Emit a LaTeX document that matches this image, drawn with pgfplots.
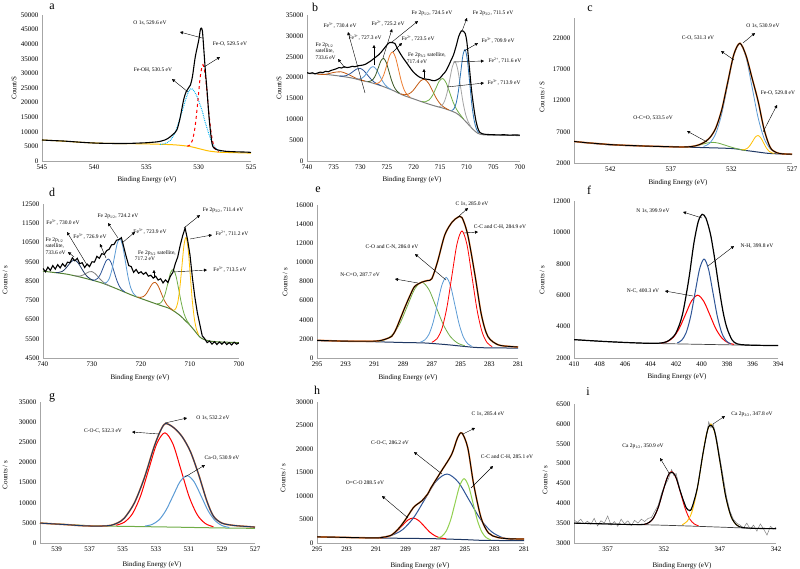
\documentclass[border=0pt]{standalone}
\usepackage{fontspec}
\setmainfont{Liberation Serif}
\usepackage{pgfplots}
\pgfplotsset{compat=1.18}
\usetikzlibrary{arrows.meta}
\definecolor{axisgray}{HTML}{A6A6A6}
\definecolor{xred}{HTML}{FF0000}
\definecolor{xcyan}{HTML}{00B0F0}
\definecolor{xgold}{HTML}{FFC000}
\definecolor{xorg}{HTML}{ED7D31}
\definecolor{xbrown}{HTML}{C55A11}
\definecolor{xnavy}{HTML}{1F3864}
\definecolor{xdblue}{HTML}{2F5597}
\definecolor{xlblue}{HTML}{5B9BD5}
\definecolor{xblue}{HTML}{2E75B6}
\definecolor{xdgreen}{HTML}{385723}
\definecolor{xgreen}{HTML}{70AD47}
\definecolor{xlgreen}{HTML}{92D050}
\definecolor{xolive}{HTML}{548235}
\definecolor{xgray}{HTML}{808080}
\definecolor{xlgray}{HTML}{A5A5A5}
\definecolor{xraw}{HTML}{404040}

\pgfplotsset{
  xps/.style={
    scale only axis, x dir=reverse, anchor=south west,
    axis x line*=bottom, axis y line*=left,
    axis line style={draw=axisgray, line width=0.6pt},
    major tick length=0pt,
    tick label style={font=\fontsize{7}{8}\selectfont, text=black},
    /pgf/number format/assume math mode=true,
    /pgf/number format/1000 sep={},
    scaled ticks=false,
    every axis plot/.append style={smooth, no markers, line width=0.8pt},
  },
}
\newcommand{\an}{\fontsize{5.5}{6.5}\selectfont}
\newcommand{\lab}{\fontsize{7}{8}\selectfont}
\tikzset{arr/.style={-{Triangle[length=3pt,width=3pt]}, line width=0.4pt, black}}

\begin{document}
\begin{tikzpicture}
\fill[white] (0,0) rectangle (800pt,-569pt);
\useasboundingbox (0,0) rectangle (800pt,-569pt);

% ---------- a: O 1s ----------
\begin{axis}[xps, at={(42pt,-161pt)}, width=209pt, height=146pt,
  xmin=525, xmax=545, ymin=0, ymax=50000,
  xtick={525,530,535,540,545}, ytick={0,5000,...,50000}]
\addplot[xgold, line width=1pt] coordinates {(545,7200) (543,6800) (541,6350) (539,6050) (537,5950) (535,5850) (533,5650) (532,5450) (531,5050) (530.5,4700) (530,4250) (529.5,3800) (529,3400) (528,3000) (527,2900) (525,2700)};
\addplot[xcyan, densely dotted, line width=1pt] coordinates {(533.7,5726) (533.2,5990) (532.7,7160) (532.2,10300) (531.7,15760) (531.2,21610) (530.95,24000) (530.7,24800) (530.45,24000) (530.2,22300) (529.7,17500) (529.4,13500) (529.05,9500) (528.75,6500) (528.5,4900) (528.2,3800) (527.8,3200)};
\addplot[xred, dashed, line width=1pt] coordinates {(531.1,5063) (530.85,5490) (530.6,7150) (530.35,11730) (530.1,19970) (529.85,29020) (529.6,32980) (529.35,28620) (529.1,19170) (528.85,10580) (528.6,5670) (528.35,3710) (528.1,3133)};
\addplot[black, line width=1.1pt] coordinates {(545,7200) (544,7000) (543,6850) (542,6600) (541,6350) (540,6150) (539,6050) (538,6000) (537,6000) (536,6100) (535,6250) (534.5,6400) (534,6550) (533.5,6900) (533,7600) (532.5,9000) (532.1,10600) (531.8,14500) (531.45,20900) (531.2,23800) (531,24900) (530.8,26000) (530.6,29000) (530.33,35700) (530,41400) (529.85,44900) (529.75,45500) (529.65,44500) (529.53,39000) (529.37,31000) (529.21,24300) (528.99,14000) (528.73,6000) (528.5,4300) (528.2,3800) (527.5,3350) (526.5,3150) (525.5,3050) (525,2950)};
\end{axis}

% ---------- b: Fe 2p ----------
\begin{axis}[xps, at={(307pt,-161pt)}, width=213pt, height=146pt,
  xmin=700, xmax=740, ymin=0, ymax=35000,
  xtick={700,705,...,740}, ytick={0,5000,...,35000}]
\addplot[xgray, line width=1pt] coordinates {(740,21000) (736,20700) (732,20000) (730,19400) (728,18800) (726,18000) (724,17000) (722,15800) (720,14900) (718,14000) (716,13200) (714,12500) (712,11500) (711,10500) (710,9200) (709,7800) (708,6700) (707,6300) (705,6200) (700,6100)};
\addplot[xbrown] coordinates {(738.1,20852) (736.6,20749) (735.1,21207) (733.6,21380) (732.1,20667) (730.6,19729) (729.1,19142)};
\addplot[xdblue] coordinates {(733.9,20364) (733.25,20342) (732.6,20484) (731.95,20894) (731.3,21488) (730.65,22066) (730,22200) (729.35,21676) (728.7,20708) (728.05,19724) (727.4,18939) (726.75,18423) (726.1,18071)};
\addplot[xlblue] coordinates {(730.8,19684) (730.25,19651) (729.7,19851) (729.15,20444) (728.6,21406) (728.05,22345) (727.5,22600) (726.95,21910) (726.4,20586) (725.85,19224) (725.3,18191) (724.75,17551) (724.2,17144)};
\addplot[xdgreen] coordinates {(728.6,19055) (728.1,19129) (727.6,19560) (727.1,20648) (726.6,22364) (726.1,24041) (725.6,24600) (725.1,23551) (724.6,21424) (724.1,19258) (723.6,17680) (723.1,16759) (722.6,16235)};
\addplot[xorg] coordinates {(727.2,18582) (726.65,18664) (726.1,19285) (725.55,20762) (725,23080) (724.45,25344) (723.9,26140) (723.35,24729) (722.8,21860) (722.25,18937) (721.7,16910) (721.15,15822) (720.6,15272)};
\addplot[xbrown] coordinates {(722.4,16102) (721.65,15889) (720.9,16063) (720.15,16786) (719.4,18026) (718.65,19235) (717.9,19560) (717.15,18602) (716.4,16756) (715.65,14896) (714.9,13573) (714.15,12799) (713.4,12262)};
\addplot[xgreen] coordinates {(718.4,14259) (717.75,14212) (717.1,14601) (716.45,15685) (715.8,17436) (715.15,19169) (714.5,19775) (713.85,18691) (713.2,16406) (712.55,14080) (711.9,12361) (711.25,11137) (710.6,10059)};
\addplot[xlgray] coordinates {(715.2,13055) (714.7,13281) (714.2,14251) (713.7,16311) (713.2,19499) (712.7,22617) (712.2,23800) (711.7,21967) (711.2,18099) (710.7,14071) (710.2,11111) (709.7,9316) (709.2,8215)};
\addplot[xblue] coordinates {(712.85,12115) (712.43,12466) (712,13814) (711.58,16632) (711.15,21021) (710.73,25241) (710.3,26690) (709.88,24121) (709.45,18801) (709.03,13392) (708.6,9674) (708.18,7651) (707.75,6790)};
\addplot[black, line width=1.1pt] coordinates {(740,21200) (739.5,21000) (739,21150) (738.5,20900) (738,21100) (737.5,21300) (737,21200) (736.5,21500) (736,21400) (735.5,21700) (735,21900) (734.5,22100) (734,22400) (733.5,22300) (733,22600) (732.5,22400) (732,22500) (731.5,22700) (731,22600) (730.5,22800) (730,22900) (729.5,23000) (729,23200) (728.5,23600) (728,24000) (727.5,24500) (727,25000) (726.5,25500) (726,26200) (725.5,27000) (725,27800) (724.5,28400) (724,28400) (723.5,28200) (723,26900) (722.5,25800) (722,24800) (721.5,23900) (721,23000) (720.5,22100) (720,21300) (719.5,20700) (719,20200) (718.5,19900) (718,19700) (717.5,19600) (717,19500) (716.5,19300) (716,19250) (715.5,19500) (715,19900) (714.5,20700) (714,21400) (713.5,22600) (713,24000) (712.5,25400) (712,27500) (711.5,29900) (711,31200) (710.6,31100) (710.3,30600) (710,28800) (709.7,25000) (709.4,21000) (709.1,17000) (708.7,13000) (708.3,9800) (707.9,7800) (707.5,6800) (707,6500) (706.5,6400) (706,6350) (705,6300) (704,6250) (703,6300) (702,6200) (701,6250) (700,6200)};
\end{axis}

% ---------- c: O 1s ----------
\begin{axis}[xps, at={(574pt,-163pt)}, width=218pt, height=145pt,
  xmin=527, xmax=545, ymin=2000, ymax=25200,
  xtick={527,532,537,542}, ytick={2000,7000,12000,17000,22000}]
\addplot[xnavy, line width=1pt] coordinates {(545,5450) (542,4900) (538,4650) (535,4500) (532,4320) (531,4050) (530,3800) (529,3550) (528,3450) (527,3400)};
\addplot[xgreen] coordinates {(536.2,4570) (535.75,4577) (535.3,4635) (534.85,4779) (534.4,5004) (533.95,5222) (533.5,5300) (533.05,5168) (532.6,4896) (532.15,4618) (531.7,4360) (531.25,4157) (530.8,4010)};
\addplot[xgold] coordinates {(531.15,4119) (530.93,4146) (530.7,4334) (530.48,4780) (530.25,5469) (530.03,6147) (529.8,6400) (529.58,6034) (529.35,5245) (529.13,4443) (528.9,3899) (528.68,3634) (528.45,3524)};
\addplot[xlblue] coordinates {(534.3,4646) (533.8,5173) (533.3,6694) (532.8,9878) (532.3,14630) (531.8,19236) (531.3,21100) (530.8,18976) (530.3,14167) (529.8,9260) (529.3,5921) (528.8,4275) (528.3,3668)};
\addplot[xorg, line width=1.6pt] coordinates {(545,5450) (544,5250) (543,5100) (542,4950) (541,4850) (540,4780) (539,4700) (538,4650) (537,4600) (536,4560) (535.3,4635) (534.8,4838) (534.3,5246) (533.8,6015) (533.3,7562) (532.8,10536) (532.3,14996) (531.8,19386) (531.3,21155) (530.8,19210) (530.3,15597) (529.8,11910) (529.3,7351) (528.8,4499) (528.3,3678) (527.8,3470) (527,3400)};
\addplot[black, line width=0.9pt] coordinates {(545,5450) (544,5250) (543,5100) (542,4950) (541,4850) (540,4780) (539,4700) (538,4650) (537,4600) (536,4560) (535.3,4635) (534.8,4838) (534.3,5246) (533.8,6015) (533.3,7562) (532.8,10536) (532.3,14996) (531.8,19386) (531.3,21155) (530.8,19210) (530.3,15597) (529.8,11910) (529.3,7351) (528.8,4499) (528.3,3678) (527.8,3470) (527,3400)};
\end{axis}

% ---------- d: Fe 2p ----------
\begin{axis}[xps, at={(43pt,-358pt)}, width=196pt, height=154pt,
  xmin=700, xmax=740, ymin=4500, ymax=12500,
  xtick={700,710,...,740}, ytick={4500,5500,...,12500}]
\addplot[xolive, line width=1pt] coordinates {(740,9010) (737,8920) (735,8850) (732,8680) (728,8400) (725,8100) (722,7780) (720,7590) (718,7410) (716,7230) (714,7050) (712,6700) (711,6450) (710,6200) (709,5900) (708,5590) (707,5450) (705,5350) (700,5300)};
\addplot[xnavy] coordinates {(737.4,8942) (736.75,8948) (736.1,8995) (735.45,9129) (734.8,9333) (734.15,9521) (733.5,9580) (732.85,9447) (732.2,9185) (731.55,8914) (730.9,8713) (730.25,8594) (729.6,8521)};
\addplot[xgray] coordinates {(733.6,8776) (733,8757) (732.4,8764) (731.8,8812) (731.2,8897) (730.6,8979) (730,8990) (729.4,8895) (728.8,8729) (728.2,8560) (727.6,8421) (727,8320) (726.4,8245)};
\addplot[xdblue] coordinates {(729.9,8548) (729.35,8556) (728.8,8643) (728.25,8866) (727.7,9207) (727.15,9533) (726.6,9640) (726.05,9423) (725.5,8987) (724.95,8543) (724.4,8223) (723.85,8038) (723.3,7933)};
\addplot[xlblue] coordinates {(727.6,8390) (727.05,8423) (726.5,8613) (725.95,9067) (725.4,9768) (724.85,10454) (724.3,10710) (723.75,10336) (723.2,9535) (722.65,8722) (722.1,8153) (721.55,7855) (721,7715)};
\addplot[xbrown] coordinates {(720.7,7669) (720.1,7648) (719.5,7692) (718.9,7843) (718.3,8104) (717.7,8354) (717.1,8429) (716.5,8246) (715.9,7888) (715.3,7524) (714.7,7262) (714.1,7107) (713.5,6975)};
\addplot[xgreen] coordinates {(716.7,7317) (716.15,7339) (715.6,7486) (715.05,7845) (714.5,8402) (713.95,8943) (713.4,9100) (712.85,8751) (712.3,8060) (711.75,7338) (711.2,6792) (710.65,6458) (710.1,6249)};
\addplot[xgold] coordinates {(713.35,6984) (712.93,7054) (712.5,7378) (712.08,8130) (711.65,9257) (711.23,10356) (710.8,10760) (710.38,10143) (709.95,8829) (709.53,7475) (709.1,6520) (708.68,5992) (708.25,5716)};
\addplot[black, line width=1.1pt, sharp plot] coordinates {(740,9150) (739.5,8980) (739,9220) (738.5,9050) (738,9300) (737.5,9120) (737,9350) (736.5,9180) (736,9400) (735.5,9250) (735,9480) (734.5,9450) (734,9700) (733.5,9550) (733,9680) (732.5,9400) (732,9450) (731.5,9200) (731,9380) (730.5,9250) (730,9500) (729.5,9480) (729,9780) (728.5,9680) (728,9920) (727.5,9880) (727,10080) (726.5,10150) (726,10380) (725.5,10400) (725,10620) (724.5,10650) (724,10750) (723.5,10250) (723,9750) (722.5,9300) (722,9250) (721.5,8950) (721,9100) (720.5,8900) (720,8980) (719.5,8850) (719,8950) (718.5,8750) (718,8800) (717.5,8650) (717,8750) (716.5,8550) (716,8620) (715.5,8400) (715,8560) (714.5,8420) (714,8750) (713.5,8950) (713,9400) (712.5,9750) (712,10350) (711.5,10850) (711,11250) (710.5,10650) (710,9850) (709.5,8650) (709,7650) (708.5,6850) (708,6250) (707.5,5650) (707,5500) (706.5,5300) (706,5380) (705.5,5220) (705,5350) (704.5,5200) (704,5330) (703.5,5220) (703,5340) (702.5,5200) (702,5300) (701.5,5180) (701,5320) (700.5,5220) (700,5280)};
\end{axis}

% ---------- e: C 1s ----------
\begin{axis}[xps, at={(317pt,-358pt)}, width=201pt, height=153pt,
  xmin=281, xmax=295, ymin=0, ymax=16000,
  xtick={281,283,...,295}, ytick={0,2000,...,16000}]
\addplot[xnavy, line width=1pt] coordinates {(295,1810) (292,1740) (289,1620) (287.5,1570) (286,1400) (285,1250) (284,1110) (283,1060) (281,1040)};
\addplot[xgreen] coordinates {(290.7,1758) (290.2,1947) (289.7,2507) (289.2,3690) (288.7,5461) (288.2,7197) (287.7,7927) (287.2,7140) (286.7,5330) (286.2,3485) (285.7,2214) (285.2,1559) (284.7,1278)};
\addplot[xlblue] coordinates {(287.8,1658) (287.5,1878) (287.2,2486) (286.9,3781) (286.6,5726) (286.3,7629) (286,8420) (285.7,7550) (285.4,5568) (285.1,3544) (284.8,2172) (284.5,1488) (284.2,1216)};
\addplot[xred] coordinates {(287,1647) (286.65,2003) (286.3,3064) (285.95,5306) (285.6,8648) (285.25,11922) (284.9,13286) (284.55,11821) (284.2,8446) (283.85,5016) (283.5,2715) (283.15,1597) (282.8,1192)};
\addplot[xorg, line width=1.6pt] coordinates {(295,1850) (294,1800) (293,1760) (292,1750) (291,1760) (290.5,1850) (290,2100) (289.8,2260) (289.5,3000) (288.9,5220) (288.5,6600) (288.2,7480) (287.7,7930) (287.3,8100) (287,8300) (286.6,10090) (286.1,12870) (285.6,14190) (285.2,14710) (284.9,14680) (284.5,12870) (284,8700) (283.55,4520) (283.1,2260) (282.4,1390) (281.5,1200) (281,1150)};
\addplot[black, line width=0.9pt] coordinates {(295,1850) (294,1800) (293,1760) (292,1750) (291,1760) (290.5,1850) (290,2100) (289.8,2260) (289.5,3000) (288.9,5220) (288.5,6600) (288.2,7480) (287.7,7930) (287.3,8100) (287,8300) (286.6,10090) (286.1,12870) (285.6,14190) (285.2,14710) (284.9,14680) (284.5,12870) (284,8700) (283.55,4520) (283.1,2260) (282.4,1390) (281.5,1200) (281,1150)};
\end{axis}

% ---------- f: N 1s ----------
\begin{axis}[xps, at={(574pt,-358pt)}, width=204pt, height=157pt,
  xmin=394, xmax=410, ymin=2000, ymax=12000,
  xtick={394,396,...,410}, ytick={2000,4000,...,12000}]
\addplot[xraw, line width=0.7pt] coordinates {(410,3170) (408,3070) (406,2990) (404,2930) (402,2900) (400,2870) (398,2840) (396,2810) (394,2790)};
\addplot[xred, line width=1pt] coordinates {(403.15,2950) (402.68,3045) (402.2,3326) (401.73,3911) (401.25,4784) (400.78,5640) (400.3,6000) (399.83,5625) (399.35,4755) (398.88,3868) (398.4,3269) (397.93,2976) (397.45,2867)};
\addplot[xdblue, line width=1pt] coordinates {(401.9,2958) (401.55,3132) (401.2,3623) (400.85,4648) (400.5,6174) (400.15,7668) (399.8,8302) (399.45,7658) (399.1,6153) (398.75,4616) (398.4,3581) (398.05,3080) (397.7,2896)};
\addplot[black, line width=1.2pt] coordinates {(410,3170) (408,3070) (406,2990) (404,2935) (403,2975) (402.5,3150) (402,3600) (401.5,4750) (401,7000) (400.6,9300) (400.25,10700) (399.95,11150) (399.65,10900) (399.3,9900) (399,8500) (398.65,6600) (398.3,4900) (398,3900) (397.6,3150) (397.2,2900) (396.5,2830) (395,2800) (394,2790)};
\end{axis}

% ---------- g: O 1s ----------
\begin{axis}[xps, at={(40pt,-543pt)}, width=215pt, height=141pt,
  xmin=527, xmax=540, ymin=0, ymax=35000,
  xtick={527,529,...,539}, ytick={0,5000,...,35000}]
\addplot[xgreen, line width=1pt] coordinates {(540,4950) (538,4500) (537,4300) (536,4200) (534,4080) (532,3950) (530,3800) (528,3680) (527,3650)};
\addplot[xred, line width=1pt] coordinates {(535.39,4422) (534.9,5160) (534.41,7267) (533.92,11663) (533.43,18218) (532.94,24636) (532.45,27350) (531.96,24571) (531.47,18084) (530.98,11462) (530.49,6999) (530,4826) (529.51,4030)};
\addplot[xlblue, line width=1pt] coordinates {(533.65,4201) (533.23,4595) (532.8,5740) (532.38,8144) (531.95,11733) (531.53,15246) (531.1,16723) (530.68,15182) (530.25,11606) (529.83,7959) (529.4,5501) (528.98,4303) (528.55,3856)};
\addplot[xorg, line width=1.6pt] coordinates {(540,4940) (539,4700) (538.3,4530) (537.5,4300) (536.7,4200) (536,4250) (535.7,4400) (535.3,5000) (534.9,6180) (534.3,9890) (533.7,16060) (533.1,23890) (532.7,28000) (532.4,29650) (531.9,28580) (531.4,26360) (530.9,22650) (530.4,16890) (529.9,10300) (529.5,6590) (529,4940) (528.3,4370) (527.5,4100) (527,3950)};
\addplot[xnavy, line width=1pt] coordinates {(540,4940) (539,4700) (538.3,4530) (537.5,4300) (536.7,4200) (536,4250) (535.7,4400) (535.3,5000) (534.9,6180) (534.3,9890) (533.7,16060) (533.1,23890) (532.7,28000) (532.4,29650) (531.9,28580) (531.4,26360) (530.9,22650) (530.4,16890) (529.9,10300) (529.5,6590) (529,4940) (528.3,4370) (527.5,4100) (527,3950)};
\end{axis}

% ---------- h: C 1s ----------
\begin{axis}[xps, at={(317pt,-543pt)}, width=207pt, height=141pt,
  xmin=281, xmax=295, ymin=0, ymax=30000,
  xtick={281,283,...,295}, ytick={0,5000,...,30000}]
\addplot[xnavy, line width=1pt] coordinates {(295,1300) (293,1180) (291,1070) (289,990) (287,910) (285,720) (284,580) (283,540) (281,500)};
\addplot[xred, line width=1pt] coordinates {(290.75,1108) (290.38,1236) (290,1619) (289.63,2427) (289.25,3638) (288.88,4824) (288.5,5320) (288.13,4794) (287.75,3578) (287.38,2337) (287,1501) (286.63,1066) (286.25,887)};
\addplot[xdblue, line width=1pt] coordinates {(290.7,1212) (289.95,1636) (289.2,2871) (288.45,5462) (287.7,9332) (286.95,13119) (286.2,14674) (285.45,12977) (284.7,9072) (283.95,5072) (283.2,2421) (282.45,1138) (281.7,667)};
\addplot[xlgreen, line width=1pt] coordinates {(286.85,1040) (286.55,1436) (286.25,2592) (285.95,5018) (285.65,8642) (285.35,12190) (285.05,13685) (284.75,12122) (284.45,8503) (284.15,4788) (283.85,2327) (283.55,1131) (283.25,694)};
\addplot[xorg, line width=1.6pt] coordinates {(295,1300) (294,1250) (293,1180) (292,1120) (291,1080) (290.7,1130) (290,1630) (289.5,3000) (289.1,4610) (288.5,7450) (288.2,8300) (287.9,9000) (287.5,10500) (287.3,11700) (286.6,15250) (285.9,18800) (285.5,22340) (285.2,23400) (284.8,20210) (284.4,12410) (283.9,5320) (283.4,2130) (282.8,1200) (282,900) (281,850)};
\addplot[black, line width=0.9pt] coordinates {(295,1300) (294,1250) (293,1180) (292,1120) (291,1080) (290.7,1130) (290,1630) (289.5,3000) (289.1,4610) (288.5,7450) (288.2,8300) (287.9,9000) (287.5,10500) (287.3,11700) (286.6,15250) (285.9,18800) (285.5,22340) (285.2,23400) (284.8,20210) (284.4,12410) (283.9,5320) (283.4,2130) (282.8,1200) (282,900) (281,850)};
\end{axis}

% ---------- i: Ca 2p ----------
\begin{axis}[xps, at={(574pt,-543pt)}, width=202pt, height=139pt,
  xmin=342, xmax=360, ymin=3000, ymax=6500,
  xtick={342,347,352,357}, ytick={3000,3500,...,6500}]
\addplot[xraw, line width=0.7pt] coordinates {(360,3500) (356,3470) (353,3455) (350,3430) (347,3400) (344,3370) (342,3360)};
\addplot[xred, line width=0.9pt] coordinates {(353.7,3473) (353.3,3515) (352.9,3636) (352.5,3891) (352.1,4271) (351.7,4643) (351.3,4800) (350.9,4636) (350.5,4258) (350.1,3872) (349.7,3609) (349.3,3483) (348.9,3434)};
\addplot[xgold, line width=0.9pt] coordinates {(350.35,3462) (349.93,3543) (349.5,3775) (349.08,4262) (348.65,4988) (348.23,5698) (347.8,5998) (347.38,5690) (346.95,4970) (346.53,4236) (346.1,3741) (345.68,3501) (345.25,3411)};
\addplot[xgray, line width=0.5pt, sharp plot] coordinates {(360,3580) (359.7,3520) (359.4,3600) (359.1,3480) (358.8,3550) (358.5,3470) (358.2,3620) (357.9,3430) (357.6,3560) (357.3,3500) (357,3680) (356.7,3450) (356.4,3540) (356.1,3420) (355.8,3600) (355.5,3480) (355.2,3560) (354.9,3440) (354.6,3570) (354.3,3500) (354,3600) (353.7,3540) (353.4,3620) (353.1,3640) (352.8,3800) (352.5,3950) (352.2,4250) (351.9,4450) (351.6,4600) (351.3,4850) (351.1,4700) (350.9,4750) (350.6,4400) (350.3,4100) (350,3900) (349.7,3800) (349.4,3950) (349.1,4250) (348.8,4750) (348.5,5300) (348.2,5700) (348,6050) (347.8,5900) (347.6,6000) (347.3,5650) (347,5150) (346.7,4650) (346.4,4150) (346.1,3800) (345.8,3600) (345.5,3500) (345.2,3450) (344.9,3380) (344.6,3500) (344.3,3350) (344,3450) (343.7,3300) (343.4,3480) (343.1,3350) (342.8,3200) (342.5,3420) (342.2,3350) (342,3400)};
\addplot[black, line width=1.1pt] coordinates {(360,3500) (357,3480) (355,3465) (354,3465) (353.5,3489) (353,3597) (352.5,3892) (352,4374) (351.5,4761) (351,4708) (350.5,4277) (350,3884) (349.7,3824) (349.5,3883) (349,4398) (348.5,5263) (348,5930) (347.5,5838) (347,5063) (346.5,4199) (346,3665) (345.5,3452) (345,3391) (344,3370) (342,3360)};
\end{axis}

% ---------- labels and annotations (pixel frame, y down) ----------
\begin{scope}[x=1pt, y=-1pt]
\foreach \t/\px/\py in {a/52/7, b/315/7, c/590/9, d/52/192, e/318/190, f/589/190, g/52/398, h/317/390, i/588/392}
  \node[font=\fontsize{12}{12}\selectfont] at (\px,\py) {\t};
\foreach \px/\py in {147/180, 412/180, 678/183, 140/378, 408/378, 677/377, 152/565, 420/566, 682/566}
  \node[font=\lab] at (\px,\py) {Binding Energy (eV)};
\node[font=\lab, rotate=90] at (14,88) {Count/S};
\node[font=\lab, rotate=90] at (279,88) {Count/S};
\node[font=\lab, rotate=90] at (542,97) {Cou nts / S};
\node[font=\lab, rotate=90] at (5,280) {Counts / s};
\node[font=\lab, rotate=90] at (285,282) {Counts / s};
\node[font=\lab, rotate=90] at (542,280) {Counts / s};
\node[font=\lab, rotate=90] at (5,475) {Counts / s};
\node[font=\lab, rotate=90] at (283,478) {Counts / s};
\node[font=\lab, rotate=90] at (545,480) {Counts / s};

% a
\node[font=\an] at (150,23) {O 1s, 529.6 eV};
\draw[arr] (202,38) -- (180,32);
\node[font=\an] at (230,44) {Fe-O, 529.5 eV};
\draw[arr] (204,67) -- (220,57);
\node[font=\an] at (153,70) {Fe-OH, 530.5 eV};
\draw[arr] (188,92) -- (172,79);

% b
\node[font=\an, anchor=north west, align=left] at (312,39) {Fe 2p\textsubscript{1/2}\\satellite,\\733.6 eV};
\draw[arr] (345,68) -- (338,59);
\node[font=\an] at (340,26) {Fe\textsuperscript{3+}, 730.4 eV};
\draw[arr] (365,93) -- (348,32);
\node[font=\an] at (365,38) {Fe\textsuperscript{3+}, 727.3 eV};
\draw[arr] (374,65) -- (374,45);
\node[font=\an] at (388,24) {Fe\textsuperscript{2+}, 725.2 eV};
\draw[arr] (383,58) -- (392,29);
\node[font=\an] at (432,13) {Fe 2p\textsubscript{1/2}, 724.5 eV};
\draw[arr] (392,42) -- (418,21);
\node[font=\an] at (418,39) {Fe\textsuperscript{2+}, 723.5 eV};
\draw[arr] (393,52) -- (402,43);
\node[font=\an] at (427,55) {Fe 2p\textsubscript{3/2} satellite,};
\node[font=\an] at (417,62) {717.4 eV};
\draw[arr] (424,78) -- (424,69);
\node[font=\an] at (493,13) {Fe 2p\textsubscript{3/2}, 711.5 eV};
\draw[arr] (462,31) -- (467,18);
\node[font=\an] at (498,41) {Fe\textsuperscript{3+}, 709.9 eV};
\draw[arr] (464,51) -- (478,43);
\node[font=\an] at (505,61) {Fe\textsuperscript{2+}, 711.6 eV};
\draw[arr] (453,62) -- (484,61);
\node[font=\an] at (504,83) {Fe\textsuperscript{3+}, 713.9 eV};
\draw[arr] (447,87) -- (484,83);

% c
\node[font=\an] at (763,26) {O 1s, 530.9 eV};
\draw[arr] (743,43) -- (755,33);
\node[font=\an] at (698,38) {C-O, 531.3 eV};
\draw[arr] (734,60) -- (721,51);
\node[font=\an] at (778,93) {Fe-O, 529.8 eV};
\draw[arr] (763,132) -- (777,105);
\node[font=\an] at (653,118) {O-C=O, 533.5 eV};
\draw[arr] (707,142) -- (687,131);

% d
\node[font=\an] at (223,210) {Fe 2p\textsubscript{3/2}, 711.4 eV};
\draw[arr] (184,228) -- (200,215);
\node[font=\an] at (232,234) {Fe\textsuperscript{2+}, 711.2 eV};
\draw[arr] (190,239) -- (212,235);
\node[font=\an] at (230,270) {Fe\textsuperscript{3+}, 713.5 eV};
\draw[arr] (173,272) -- (207,270);
\node[font=\an] at (157,253) {Fe 2p\textsubscript{3/2} satellite,};
\node[font=\an] at (145,259) {717.2 eV};
\draw[arr] (154,278) -- (154,270);
\node[font=\an] at (150,232) {Fe\textsuperscript{3+}, 723.9 eV};
\draw[arr] (122,243) -- (135,232);
\node[font=\an] at (118,216) {Fe 2p\textsubscript{1/2}, 724.2 eV};
\draw[arr] (118,238) -- (108,223);
\node[font=\an] at (90,237) {Fe\textsuperscript{3+}, 726.9 eV};
\draw[arr] (106,258) -- (100,244);
\node[font=\an] at (63,223) {Fe\textsuperscript{3+}, 730.0 eV};
\draw[arr] (87,265) -- (67,232);
\node[font=\an, anchor=north west, align=left] at (42,234) {Fe 2p\textsubscript{1/2}\\satellite,\\733.6 eV};
\draw[arr] (74,257) -- (68,252);

% e
\node[font=\an] at (472,204) {C 1s, 285.0 eV};
\draw[arr] (458,217) -- (468,208);
\node[font=\an] at (500,227) {C-C and C-H, 284.9 eV};
\draw[arr] (464,233) -- (478,232);
\node[font=\an] at (392,247) {C-O and C-N, 286.0 eV};
\draw[arr] (446,280) -- (415,254);
\node[font=\an] at (360,275) {N-C=O, 287.7 eV};
\draw[arr] (418,283) -- (395,279);

% f
\node[font=\an] at (653,211) {N 1s, 399.9 eV};
\draw[arr] (702,218) -- (683,212);
\node[font=\an] at (757,246) {N-H, 399.8 eV};
\draw[arr] (708,266) -- (734,246);
\node[font=\an] at (643,291) {N-C, 400.3 eV};
\draw[arr] (693,296) -- (665,291);

% g
\node[font=\an] at (213,418) {O 1s, 532.2 eV};
\draw[arr] (165,423) -- (187,418);
\node[font=\an] at (103,431) {C-O-C, 532.3 eV};
\draw[arr] (159,434) -- (132,432);
\node[font=\an] at (222,458) {Ca-O, 530.9 eV};
\draw[arr] (185,477) -- (205,465);

% h
\node[font=\an] at (488,414) {C 1s, 285.4 eV};
\draw[arr] (463,434) -- (475,428);
\node[font=\an] at (507,457) {C-C and C-H, 285.1 eV};
\draw[arr] (471,488) -- (493,466);
\node[font=\an] at (390,443) {C-O-C, 286.2 eV};
\draw[arr] (442,474) -- (414,452);
\node[font=\an] at (365,483) {O=C-O 288.5 eV};
\draw[arr] (408,518) -- (382,496);

% i
\node[font=\an] at (752,414) {Ca 2p\textsubscript{3/2}, 347.8 eV};
\draw[arr] (713,424) -- (725,416);
\node[font=\an] at (643,446) {Ca 2p\textsubscript{1/2}, 350.9 eV};
\draw[arr] (669,473) -- (660,458);
\end{scope}
\end{tikzpicture}
\end{document}
